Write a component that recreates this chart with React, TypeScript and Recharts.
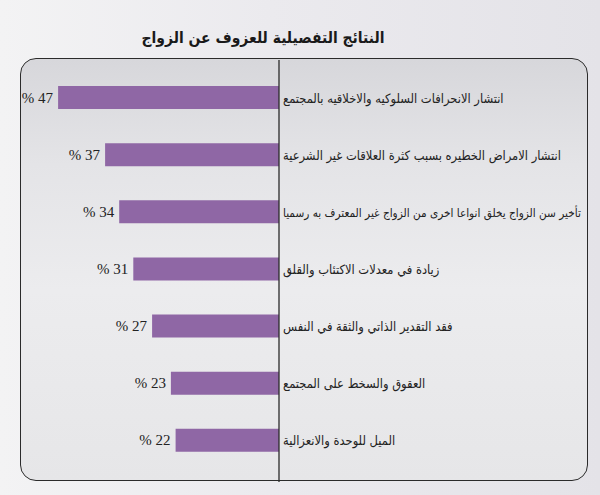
import React from 'react';
import { BarChart, Bar, XAxis, YAxis, LabelList, ReferenceLine } from 'recharts';

const categories = [
  'انتشار الانحرافات السلوكيه والاخلاقيه بالمجتمع',
  'انتشار الامراض الخطيره بسبب كثرة العلاقات غير الشرعية',
  'تأخير سن الزواج يخلق انواعا اخرى من الزواج غير المعترف به رسميا',
  'زيادة في معدلات الاكتئاب والقلق',
  'فقد التقدير الذاتي والثقة في النفس',
  'العقوق والسخط على المجتمع',
  'الميل للوحدة والانعزالية',
];
const values = [47, 37, 34, 31, 27, 23, 22];
const title = 'النتائج التفصيلية للعزوف عن الزواج';

const data = categories.map((name, i) => ({ name, value: values[i] }));

const ARABIC = '"DejaVu Sans Condensed", "DejaVu Sans", sans-serif';

const CategoryTick = (props: any) => {
  const { x, y, payload } = props;
  const text = String(payload.value);
  const size = text.length > 56 ? 11.7 : 12.8;
  return (
    <text x={x} y={y} dy={5} textAnchor="start" fontFamily={ARABIC} fontStretch="condensed" fontSize={size} fill="#222">
      {text}
    </text>
  );
};

const ValueLabel = (props: any) => {
  const { x, y, width, height, value } = props;
  const left = Math.min(x, x + width);
  return (
    <text x={left - 5} y={y + height / 2} dy={5} textAnchor="end" fontFamily='"Liberation Serif", serif' fontSize={15} fill="#222">
      {`% ${value}`}
    </text>
  );
};

const AxisLineShape = (props: any) => {
  const { x1, y1, x2, y2 } = props;
  return <line x1={x1} y1={y1 + 13} x2={x2} y2={y2 - 9} stroke="#2a2a2a" strokeWidth={1.3} />;
};

export default function App() {
  return (
    <div
      style={{
        position: 'absolute',
        left: 0,
        top: 0,
        width: 600,
        height: 495,
        overflow: 'hidden',
        background: 'linear-gradient(90deg, #f3f3f4 0%, #ebeaee 45%, #e4e3e8 100%)',
      }}
    >
      <div
        style={{
          position: 'absolute',
          left: 63,
          top: 29,
          width: 400,
          textAlign: 'center',
          direction: 'rtl',
          fontFamily: ARABIC,
          fontStretch: 'condensed',
          fontSize: 15.5,
          fontWeight: 'bold',
          color: '#1a1a1a',
        }}
      >
        {title}
      </div>
      <div
        style={{
          position: 'absolute',
          left: 20,
          top: 58,
          width: 566,
          height: 421,
          border: '1.5px solid #2b2b2b',
          borderRadius: 16,
          background: 'linear-gradient(180deg, #d7d7db 0%, #e4e4e7 25%, #ececee 55%, #e6e6e8 100%)',
        }}
      />
      <div style={{ position: 'absolute', left: 0, top: 0 }}>
        <BarChart
          width={600}
          height={495}
          data={data}
          layout="vertical"
          margin={{ top: 69, bottom: 26, left: 44, right: 0 }}
          barSize={23}
        >
          <XAxis type="number" domain={[0, 50]} reversed hide />
          <YAxis
            type="category"
            dataKey="name"
            orientation="right"
            width={321}
            axisLine={false}
            tickLine={false}
            tickSize={0}
            tickMargin={4}
            interval={0}
            tick={<CategoryTick />}
          />
          <Bar dataKey="value" fill="#8f67a5" isAnimationActive={false}>
            <LabelList dataKey="value" content={<ValueLabel />} />
          </Bar>
          <ReferenceLine x={0} shape={<AxisLineShape />} />
        </BarChart>
      </div>
    </div>
  );
}
